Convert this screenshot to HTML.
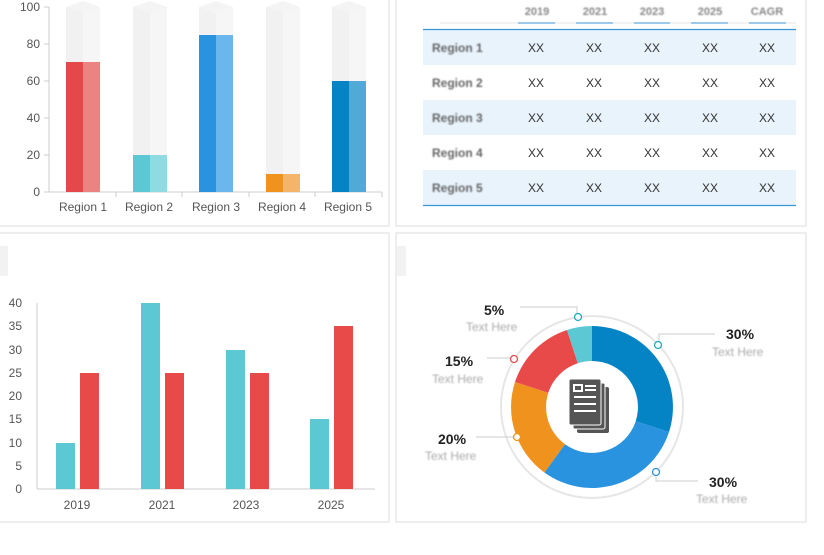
<!DOCTYPE html><html><head><style>body{margin:0;background:#fff;font-family:"Liberation Sans",sans-serif}svg text{font-family:"Liberation Sans",sans-serif}</style></head><body>
<svg width="824" height="550" xmlns="http://www.w3.org/2000/svg">
<defs><filter id="bl" x="-20%" y="-50%" width="140%" height="200%"><feGaussianBlur stdDeviation="0.9"/></filter></defs>
<rect width="824" height="550" fill="#fff"/>
<path d="M389 0V226H0" fill="none" stroke="#ddd"/>
<path d="M396 0V226H806V0" fill="none" stroke="#ddd"/>
<path d="M0 233H389V522H0" fill="none" stroke="#ddd"/>
<rect x="396" y="233" width="410" height="289" fill="none" stroke="#ddd"/>
<rect x="0" y="246" width="8" height="30" fill="#f2f2f2"/>
<rect x="397" y="246" width="9" height="30" fill="#f2f2f2"/>
<g font-size="12" fill="#555" text-anchor="end">
<text x="40" y="11">100</text><text x="40" y="48">80</text><text x="40" y="85">60</text><text x="40" y="122">40</text><text x="40" y="159">20</text><text x="40" y="196">0</text></g>
<g stroke="#ccc"><line x1="49" y1="7" x2="49" y2="192"/><line x1="49" y1="192" x2="382" y2="192"/>
<line x1="44" y1="7" x2="49" y2="7"/><line x1="44" y1="44" x2="49" y2="44"/><line x1="44" y1="81" x2="49" y2="81"/><line x1="44" y1="118" x2="49" y2="118"/><line x1="44" y1="155" x2="49" y2="155"/><line x1="44" y1="192" x2="49" y2="192"/>
<line x1="116" y1="192" x2="116" y2="197"/><line x1="182" y1="192" x2="182" y2="197"/><line x1="249" y1="192" x2="249" y2="197"/><line x1="315" y1="192" x2="315" y2="197"/><line x1="382" y1="192" x2="382" y2="197"/></g>
<g>
<g transform="translate(66,0)"><rect y="7" width="17" height="185" fill="#f1f1f1"/><rect x="17" y="7" width="17" height="185" fill="#f6f6f6"/><path d="M0 7L17 1L34 7L17 13Z" fill="#f4f4f4"/><rect y="62" width="17" height="130" fill="#e5484a"/><rect x="17" y="62" width="17" height="130" fill="#ec8383"/></g>
<g transform="translate(133,0)"><rect y="7" width="17" height="185" fill="#f1f1f1"/><rect x="17" y="7" width="17" height="185" fill="#f6f6f6"/><path d="M0 7L17 1L34 7L17 13Z" fill="#f4f4f4"/><rect y="155" width="17" height="37" fill="#5bc8d3"/><rect x="17" y="155" width="17" height="37" fill="#8fdbe2"/></g>
<g transform="translate(199,0)"><rect y="7" width="17" height="185" fill="#f1f1f1"/><rect x="17" y="7" width="17" height="185" fill="#f6f6f6"/><path d="M0 7L17 1L34 7L17 13Z" fill="#f4f4f4"/><rect y="35" width="17" height="157" fill="#2a93e0"/><rect x="17" y="35" width="17" height="157" fill="#6bb6ec"/></g>
<g transform="translate(266,0)"><rect y="7" width="17" height="185" fill="#f1f1f1"/><rect x="17" y="7" width="17" height="185" fill="#f6f6f6"/><path d="M0 7L17 1L34 7L17 13Z" fill="#f4f4f4"/><rect y="174" width="17" height="18" fill="#f0921e"/><rect x="17" y="174" width="17" height="18" fill="#f4b46a"/></g>
<g transform="translate(332,0)"><rect y="7" width="17" height="185" fill="#f1f1f1"/><rect x="17" y="7" width="17" height="185" fill="#f6f6f6"/><path d="M0 7L17 1L34 7L17 13Z" fill="#f4f4f4"/><rect y="81" width="17" height="111" fill="#0484c4"/><rect x="17" y="81" width="17" height="111" fill="#4faad6"/></g>
</g>
<g font-size="12" fill="#555" text-anchor="middle"><text x="83" y="211">Region 1</text><text x="149" y="211">Region 2</text><text x="216" y="211">Region 3</text><text x="282" y="211">Region 4</text><text x="348" y="211">Region 5</text></g>
<g fill="#e8f3fc"><rect x="423" y="30" width="373" height="35"/><rect x="423" y="100" width="373" height="35"/><rect x="423" y="170" width="373" height="35"/></g>
<line x1="440" y1="23" x2="796" y2="23" stroke="#ccc" stroke-width="0.6"/>
<line x1="423" y1="29.5" x2="796" y2="29.5" stroke="#3a94d4" stroke-width="1.2"/>
<line x1="423" y1="205.5" x2="796" y2="205.5" stroke="#3a94d4" stroke-width="1.2"/>
<g stroke="#3a94d4" stroke-width="1"><line x1="518" y1="23" x2="555" y2="23"/><line x1="576" y1="23" x2="613" y2="23"/><line x1="634" y1="23" x2="670" y2="23"/><line x1="691" y1="23" x2="728" y2="23"/><line x1="749" y1="23" x2="786" y2="23"/></g>
<g font-size="11" font-weight="bold" fill="#888" text-anchor="middle" filter="url(#bl)"><text x="537" y="15">2019</text><text x="595" y="15">2021</text><text x="652" y="15">2023</text><text x="710" y="15">2025</text><text x="767" y="15">CAGR</text></g>
<g font-size="12" font-weight="bold" fill="#666" filter="url(#bl)"><text x="432" y="52">Region 1</text><text x="432" y="87">Region 2</text><text x="432" y="122">Region 3</text><text x="432" y="157">Region 4</text><text x="432" y="192">Region 5</text></g>
<g font-size="12" fill="#333" text-anchor="middle">
<text x="536" y="52">XX</text><text x="594" y="52">XX</text><text x="652" y="52">XX</text><text x="710" y="52">XX</text><text x="767" y="52">XX</text>
<text x="536" y="87">XX</text><text x="594" y="87">XX</text><text x="652" y="87">XX</text><text x="710" y="87">XX</text><text x="767" y="87">XX</text>
<text x="536" y="122">XX</text><text x="594" y="122">XX</text><text x="652" y="122">XX</text><text x="710" y="122">XX</text><text x="767" y="122">XX</text>
<text x="536" y="157">XX</text><text x="594" y="157">XX</text><text x="652" y="157">XX</text><text x="710" y="157">XX</text><text x="767" y="157">XX</text>
<text x="536" y="192">XX</text><text x="594" y="192">XX</text><text x="652" y="192">XX</text><text x="710" y="192">XX</text><text x="767" y="192">XX</text></g>
<g font-size="12" fill="#555" text-anchor="end"><text x="22" y="307">40</text><text x="22" y="330">35</text><text x="22" y="354">30</text><text x="22" y="377">25</text><text x="22" y="400">20</text><text x="22" y="423">15</text><text x="22" y="447">10</text><text x="22" y="470">5</text><text x="22" y="493">0</text></g>
<g stroke="#ccc"><line x1="37" y1="303" x2="37" y2="489"/><line x1="37" y1="489" x2="375" y2="489"/></g>
<g fill="#5bc8d3"><rect x="56" y="443" width="19" height="46"/><rect x="141" y="303" width="19" height="186"/><rect x="226" y="350" width="19" height="139"/><rect x="310" y="419" width="19" height="70"/></g>
<g fill="#e84a4a"><rect x="80" y="373" width="19" height="116"/><rect x="165" y="373" width="19" height="116"/><rect x="250" y="373" width="19" height="116"/><rect x="334" y="326" width="19" height="163"/></g>
<g font-size="12" fill="#555" text-anchor="middle"><text x="77" y="509">2019</text><text x="162" y="509">2021</text><text x="246" y="509">2023</text><text x="331" y="509">2025</text></g>
<circle cx="592" cy="407" r="91" fill="#fff" stroke="#e6e6e6" stroke-width="2"/>
<g>
<path d="M592 326A81 81 0 0 1 669.0 432.0L635.7 421.2A46 46 0 0 0 592 361Z" fill="#0484c4"/>
<path d="M669.0 432.0A81 81 0 0 1 544.4 472.5L565.0 444.2A46 46 0 0 0 635.7 421.2Z" fill="#2a93e0"/>
<path d="M544.4 472.5A81 81 0 0 1 515.0 382.0L548.3 392.8A46 46 0 0 0 565.0 444.2Z" fill="#f0921e"/>
<path d="M515.0 382.0A81 81 0 0 1 567.0 330.0L577.8 363.3A46 46 0 0 0 548.3 392.8Z" fill="#e84a4a"/>
<path d="M567.0 330.0A81 81 0 0 1 592 326L592 361A46 46 0 0 0 577.8 363.3Z" fill="#5bc8d3"/>
</g>
<g transform="translate(569,379)"><rect x="8" y="8" width="32" height="46" rx="2" fill="#555"/><rect x="4" y="4" width="32" height="46" rx="2" fill="#555" stroke="#fff" stroke-width="1"/><rect x="0" y="0" width="32" height="46" rx="2" fill="#555" stroke="#fff" stroke-width="1"/><g fill="none" stroke="#fff" stroke-width="2"><rect x="5" y="6" width="8" height="6"/><line x1="16" y1="7" x2="27" y2="7"/><line x1="16" y1="11" x2="27" y2="11"/><line x1="5" y1="18" x2="27" y2="18"/><line x1="5" y1="25" x2="27" y2="25"/><line x1="5" y1="32" x2="27" y2="32"/></g></g>
<g stroke="#ccc" fill="none"><path d="M520 307H577V316"/><path d="M659 344V334H715"/><path d="M487 358H514"/><path d="M476 437H517"/><path d="M656 472V481H698"/></g>
<g fill="#fff" stroke-width="1.3"><circle cx="578" cy="317" r="3.5" stroke="#1fa9b8"/><circle cx="658" cy="345" r="3.5" stroke="#1fa9b8"/><circle cx="514" cy="359" r="3.5" stroke="#e84a4a"/><circle cx="517" cy="437" r="3.5" stroke="#f0921e"/><circle cx="656" cy="472" r="3.5" stroke="#2a93e0"/></g>
<g font-size="14" font-weight="bold" fill="#222"><text x="484" y="315">5%</text><text x="726" y="339">30%</text><text x="445" y="366">15%</text><text x="438" y="444">20%</text><text x="709" y="487">30%</text></g>
<g font-size="12" fill="#aaa" filter="url(#bl)"><text x="466" y="331">Text Here</text><text x="712" y="356">Text Here</text><text x="432" y="383">Text Here</text><text x="425" y="460">Text Here</text><text x="696" y="503">Text Here</text></g>
</svg>
</body></html>
